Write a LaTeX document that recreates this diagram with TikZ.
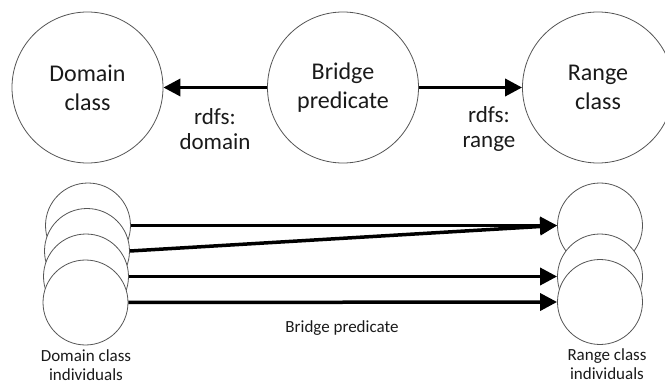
\documentclass[tikz,border=0pt]{standalone}
\usepackage{fontspec}
\setmainfont{Carlito}
\usetikzlibrary{arrows.meta}
\definecolor{edgegray}{HTML}{555555}
\definecolor{txt}{HTML}{1A1A1A}
\tikzset{
  bigcirc/.style={circle, draw=edgegray, line width=0.8pt, fill=white, minimum size=151pt, inner sep=0pt, align=center, text=txt, font=\fontsize{24}{29}\selectfont},
  smallcirc/.style={circle, draw=edgegray, line width=0.8pt, fill=white, minimum size=85pt, inner sep=0pt},
  biglabel/.style={align=center, text=txt, inner sep=0pt, font=\fontsize{23}{25}\selectfont},
  smalllabel/.style={align=center, text=txt, inner sep=0pt, font=\fontsize{17}{19}\selectfont},
  arr/.style={line width=3.5pt, -{Triangle[length=17pt,width=17pt]}, shorten >=0pt}
}
\begin{document}
\begin{tikzpicture}[x=1pt,y=-1pt]
\useasboundingbox (0,0) rectangle (665,385);
% top row
\node[bigcirc] (dom) at (87.5,87.5) {Domain\\class};
\node[bigcirc] (bri) at (343,87.5) {Bridge\\predicate};
\node[bigcirc] (ran) at (598,87.5) {Range\\class};
\draw[arr] (bri.west) -- (dom.east);
\draw[arr] (bri.east) -- (ran.west);
\node[biglabel] (ldom) at (215,129) {rdfs:\\domain};
\node[biglabel] (lran) at (489,129) {rdfs:\\range};
% domain individuals
\node[smallcirc] (d1) at (88,225.5) {};
\node[smallcirc] (d2) at (87,251) {};
\node[smallcirc] (d3) at (86,276.5) {};
\node[smallcirc] (d4) at (85.5,302.5) {};
% range individuals
\node[smallcirc] (r1) at (600,225.5) {};
\node[smallcirc] (r2) at (600,276.5) {};
\node[smallcirc] (r3) at (600,302) {};
% connectors
\draw[arr] (d1.east) -- (r1.west);
\draw[arr] (d2.east) -- (r1.west);
\draw[arr] (d3.east) -- (r2.west);
\draw[arr] (d4.east) -- (r3.west);
\node[smalllabel] (lbp) at (342,328) {Bridge predicate};
\node[smalllabel] (ldi) at (86,365) {Domain class\\individuals};
\node[smalllabel] (lri) at (607,364) {Range class\\individuals};
\end{tikzpicture}
\end{document}
